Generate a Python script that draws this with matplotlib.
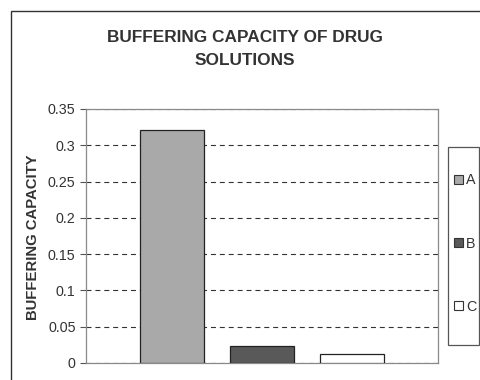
import matplotlib
matplotlib.use("Agg")
import matplotlib.pyplot as plt
from matplotlib.patches import Rectangle, Patch

plt.rcParams['font.family'] = ['Liberation Sans', 'DejaVu Sans']

# Buffering capacity of three drug solutions
solutions = ["A", "B", "C"]
capacity = [0.321, 0.023, 0.013]
colors = ["#a9a9a9", "#595959", "#ffffff"]
yticks = [0, 0.05, 0.1, 0.15, 0.2, 0.25, 0.3, 0.35]
ytick_labels = ["0", "0.05", "0.1", "0.15", "0.2", "0.25", "0.3", "0.35"]

W, H = 480, 380
fig = plt.figure(figsize=(W / 100, H / 100), dpi=100)
fig.patch.set_facecolor("white")

# outer chart frame (runs off the right and bottom edges)
fig.patches.append(Rectangle((11 / W, -0.1), 1.2, 1.1 - 11 / H,
                             transform=fig.transFigure, fill=False,
                             edgecolor="#333333", lw=1.0))

ax = fig.add_axes([86 / W, 1 - 363 / H, (438 - 86) / W, (363 - 109) / H])
x = list(range(len(solutions)))
ax.bar(x, capacity, width=0.715, color=colors, edgecolor="#222222",
       linewidth=0.9, zorder=3)

ax.set_xlim(-0.96, 2.96)
ax.set_ylim(0, 0.35)
ax.set_yticks(yticks)
ax.set_yticklabels(ytick_labels, fontsize=10.3, color="#333333")
ax.set_xticks([])
ax.tick_params(axis="y", direction="out", length=4.5, width=0.8,
               color="#555555", pad=3)
ax.grid(axis="y", color="#333333", linestyle=(0, (4.5, 3.5)), linewidth=0.8)
ax.set_axisbelow(True)
for s in ax.spines.values():
    s.set_color("#8a8a8a")
    s.set_linewidth(0.9)

fig.text(33 / W, 1 - 237 / H, "BUFFERING CAPACITY", rotation=90,
         ha="center", va="center", fontsize=10.7, fontweight="bold",
         color="#333333")

fig.text(245 / W, 1 - 49 / H, "BUFFERING CAPACITY OF DRUG\nSOLUTIONS",
         ha="center", va="center", fontsize=12.4, fontweight="bold",
         color="#333333", linespacing=1.65)

# legend frame drawn as a tall narrow box at the right
lx0, lx1, ly0, ly1 = 448, 479, 147, 345
fig.patches.append(Rectangle((lx0 / W, 1 - ly1 / H), (lx1 - lx0) / W,
                             (ly1 - ly0) / H, transform=fig.transFigure,
                             fill=False, edgecolor="#555555", lw=0.9))

handles = [Patch(facecolor=c, edgecolor="#333333", linewidth=0.8)
           for c in colors]
leg = fig.legend(handles, solutions, loc="center",
                 bbox_to_anchor=((lx0 + lx1) / 2 / W + 0.004,
                                 1 - 243.5 / H),
                 bbox_transform=fig.transFigure,
                 fontsize=10.3, frameon=False,
                 handlelength=0.6, handleheight=0.6, handletextpad=0.25,
                 labelspacing=3.43, borderpad=0, borderaxespad=0)
for t in leg.get_texts():
    t.set_color("#333333")

fig.savefig("out.png", dpi=100, facecolor="white")
